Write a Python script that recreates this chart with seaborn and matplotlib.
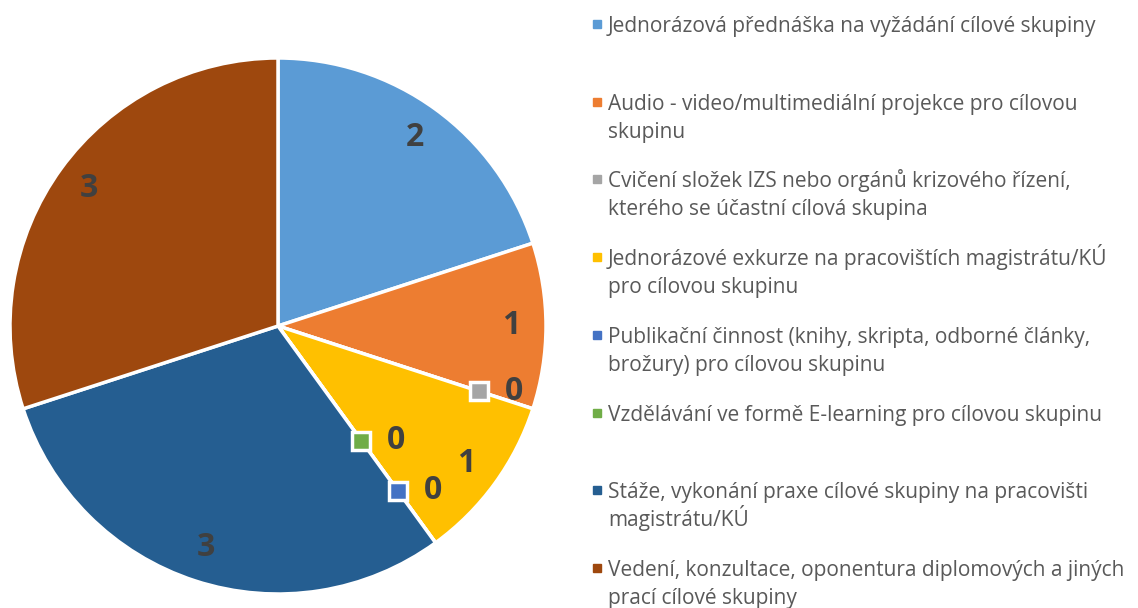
import numpy as np
import seaborn as sns
import matplotlib.pyplot as plt

# data
labels = [
    "Jednorázová přednáška na vyžádání cílové skupiny",
    "Audio - video/multimediální projekce pro cílovou\nskupinu",
    "Cvičení složek IZS nebo orgánů krizového řízení,\nkterého se účastní cílová skupina",
    "Jednorázové exkurze na pracovištích magistrátu/KÚ\npro cílovou skupinu",
    "Publikační činnost (knihy, skripta, odborné články,\nbrožury) pro cílovou skupinu",
    "Vzdělávání ve formě E-learning pro cílovou skupinu",
    "Stáže, vykonání praxe cílové skupiny na pracovišti\nmagistrátu/KÚ",
    "Vedení, konzultace, oponentura diplomových a jiných\nprací cílové skupiny",
]
values = [2, 1, 0, 1, 0, 0, 3, 3]
colors = ["#5B9BD5", "#ED7D31", "#A5A5A5", "#FFC000",
          "#4472C4", "#70AD47", "#255E91", "#9E480E"]

# radius (fraction of pie radius) for the labels of empty slices
zero_label_r = {2: 0.79, 4: 0.76, 5: 0.53}

sns.set_theme(style="white")
plt.rcParams['font.family'] = ['Open Sans', 'DejaVu Sans']
palette = sns.color_palette(colors)

W, H = 1138, 608
fig = plt.figure(figsize=(W / 100, H / 100), dpi=100)
cx, cy, R = 278, 326, 268
ax = fig.add_axes([(cx - R) / W, (H - cy - R) / H, 2 * R / W, 2 * R / H])

wedges, _ = ax.pie(values, colors=palette, startangle=90, counterclock=False,
                   wedgeprops=dict(edgecolor="white", linewidth=2.5))
for w in wedges:
    w.set_clip_on(False)
ax.set_xlim(-1, 1)
ax.set_ylim(-1, 1)
ax.set_aspect("equal")
ax.axis("off")

# data labels
total = sum(values)
cum = 0
for i, v in enumerate(values):
    start = 90 - 360 * cum / total
    end = 90 - 360 * (cum + v) / total
    cum += v
    if v > 0:
        mid = np.deg2rad((start + end) / 2)
        r = 0.87
        ax.text(r * np.cos(mid), r * np.sin(mid), str(v), ha="center", va="center",
                fontsize=23, fontweight="bold", color="#404040")
    else:
        a = np.deg2rad(start)
        r = zero_label_r[i]
        x, y = r * np.cos(a), r * np.sin(a)
        ax.plot(x, y, marker="s", markersize=12.5, color=colors[i],
                markeredgecolor="white", markeredgewidth=2.5, clip_on=False, zorder=5)
        ax.text(x + 0.13, y, "0", ha="center", va="center",
                fontsize=23, fontweight="bold", color="#404040")

# legend
y0, step, line_h = 32, 77.7, 28
for i, lab in enumerate(labels):
    base = y0 + i * step
    fig.patches.append(plt.Rectangle((593 / W, 1 - (base - 4) / H), 8 / W, 8 / H,
                                     transform=fig.transFigure, color=colors[i]))
    for k, line in enumerate(lab.split("\n")):
        fig.text(608 / W, 1 - (base + k * line_h) / H, line, ha="left", va="baseline",
                 fontsize=15, color="#595959")

fig.savefig("out.png", dpi=100)
